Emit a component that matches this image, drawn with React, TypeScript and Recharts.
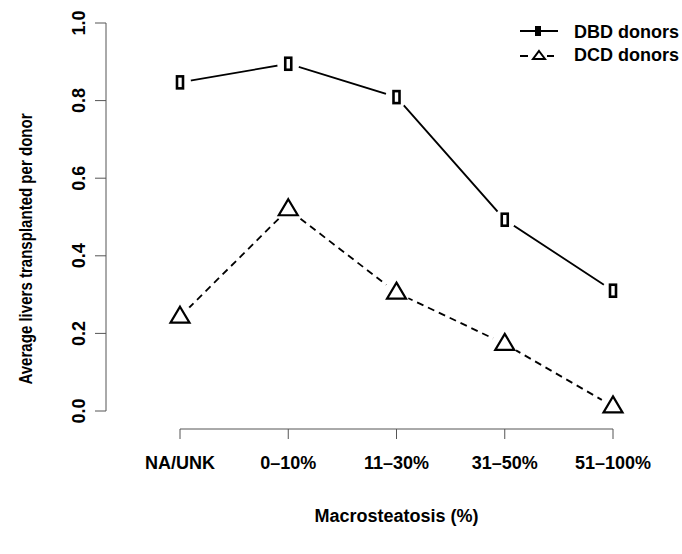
import React from 'react';
import { LineChart, Line, XAxis, YAxis, Legend } from 'recharts';

const categories = ['NA/UNK', '0\u201310%', '11\u201330%', '31\u201350%', '51\u2013100%'];
const dbdValues = [0.847, 0.895, 0.809, 0.493, 0.31];
const dcdValues = [0.243, 0.52, 0.305, 0.173, 0.012];
const yTicks = [0, 0.2, 0.4, 0.6, 0.8, 1.0];
const yTickLabels = ['0.0', '0.2', '0.4', '0.6', '0.8', '1.0'];
const seriesNames = ['DBD donors', 'DCD donors'];

const data = categories.map((c, i) => ({ cat: c, dbd: dbdValues[i], dcd: dcdValues[i] }));

const FONT = '"Liberation Sans", Arial, Helvetica, sans-serif';

const SquareDot = (props: any) => {
  const { cx, cy, index } = props;
  if (cx == null || cy == null) return null;
  return (
    <g key={`sq-${index}`}>
      <circle cx={cx} cy={cy} r={11} fill="#fff" stroke="none" />
      <rect x={cx - 3} y={cy - 6} width={6} height={12} fill="none" stroke="#000" strokeWidth={2.6} />
    </g>
  );
};

const TriangleDot = (props: any) => {
  const { cx, cy, index } = props;
  if (cx == null || cy == null) return null;
  const d = `M${cx},${cy - 10} L${cx + 9.5},${cy + 6} L${cx - 9.5},${cy + 6} Z`;
  return (
    <g key={`tr-${index}`}>
      <circle cx={cx} cy={cy} r={13} fill="#fff" stroke="none" />
      <path d={d} fill="#fff" stroke="#000" strokeWidth={2.2} strokeLinejoin="miter" />
    </g>
  );
};

const XTick = (props: any) => {
  const { x, y, payload } = props;
  return (
    <text x={x} y={y + 28} textAnchor="middle" fontFamily={FONT} fontWeight="bold" fontSize={18} fill="#000">
      {payload.value}
    </text>
  );
};

const YTick = (props: any) => {
  const { x, y, payload, index } = props;
  const bx = x - 8;
  const label = yTickLabels[index] ?? String(payload.value);
  return (
    <text
      x={bx}
      y={y}
      transform={`rotate(-90, ${bx}, ${y})`}
      textAnchor="middle"
      fontFamily={FONT}
      fontWeight="bold"
      fontSize={18}
      fill="#000"
    >
      {label}
    </text>
  );
};

const YTitle = () => {
  const cx = 32;
  const cy = 249;
  return (
    <g transform={`translate(${cx}, ${cy}) rotate(-90) scale(0.86, 1)`}>
      <text
        x={0}
        y={0}
        textAnchor="middle"
        fontFamily={FONT}
        fontWeight="bold"
        fontSize={17.5}
        fill="#000"
      >
        Average livers transplanted per donor
      </text>
    </g>
  );
};

const XTitle = (props: any) => {
  const vb = props.viewBox || {};
  const cx = (vb.x ?? 180) + (vb.width ?? 433) / 2;
  return (
    <text
      x={cx}
      y={522}
      textAnchor="middle"
      fontFamily={FONT}
      fontWeight="bold"
      fontSize={18}
      fill="#000"
    >
      Macrosteatosis (%)
    </text>
  );
};

const LegendContent = () => (
  <svg width={170} height={50} style={{ display: 'block' }}>
    <g transform="translate(-512,-15)">
      <line x1={520} y1={31} x2={558} y2={31} stroke="#000" strokeWidth={2} />
      <rect x={535} y={26} width={6} height={10} fill="#000" />
      <text x={574} y={38} fontFamily={FONT} fontWeight="bold" fontSize={18} fill="#000">{seriesNames[0]}</text>
      <line x1={520} y1={56} x2={528} y2={56} stroke="#000" strokeWidth={2} />
      <path d="M539,51 L545,59 L533,59 Z" fill="#fff" stroke="#000" strokeWidth={2} />
      <line x1={547} y1={56} x2={554} y2={56} stroke="#000" strokeWidth={2} />
      <text x={574} y={61} fontFamily={FONT} fontWeight="bold" fontSize={18} fill="#000">{seriesNames[1]}</text>
    </g>
  </svg>
);

export default function App() {
  return (
    <div style={{ position: 'absolute', left: 0, top: 0, width: 682, height: 554, background: '#fff' }}>
      <LineChart width={682} height={554} data={data} margin={{ top: 23, right: 69, bottom: 0, left: 0 }}>
        <XAxis xAxisId="a" dataKey="cat" type="category" height={18} tick={false} axisLine={false} tickLine={false} />
        <XAxis
          xAxisId="b"
          dataKey="cat"
          type="category"
          height={125}
          interval={0}
          axisLine={{ stroke: '#555', strokeWidth: 1 }}
          tickLine={{ stroke: '#555', strokeWidth: 1 }}
          tickSize={10}
          tick={<XTick />}
          label={<XTitle />}
        />
        <YAxis yAxisId="a" type="number" domain={[0, 1]} width={74} tick={false} axisLine={false} tickLine={false} />
        <YAxis
          yAxisId="b"
          type="number"
          domain={[0, 1]}
          ticks={yTicks}
          width={106}
          interval={0}
          axisLine={{ stroke: '#555', strokeWidth: 1 }}
          tickLine={{ stroke: '#555', strokeWidth: 1 }}
          tickSize={11}
          tick={<YTick />}
          label={<YTitle />}
        />
        <Legend
          layout="vertical"
          align="center"
          verticalAlign="middle"
          content={<LegendContent />}
          wrapperStyle={{ left: 512, top: 15, width: 170, height: 50 }}
        />
        <Line
          xAxisId="b"
          yAxisId="b"
          dataKey="dbd"
          name={seriesNames[0]}
          stroke="#000"
          strokeWidth={1.8}
          dot={<SquareDot />}
          activeDot={false}
          isAnimationActive={false}
        />
        <Line
          xAxisId="b"
          yAxisId="b"
          dataKey="dcd"
          name={seriesNames[1]}
          stroke="#000"
          strokeWidth={1.8}
          strokeDasharray="7 5"
          dot={<TriangleDot />}
          activeDot={false}
          isAnimationActive={false}
        />
      </LineChart>
    </div>
  );
}
